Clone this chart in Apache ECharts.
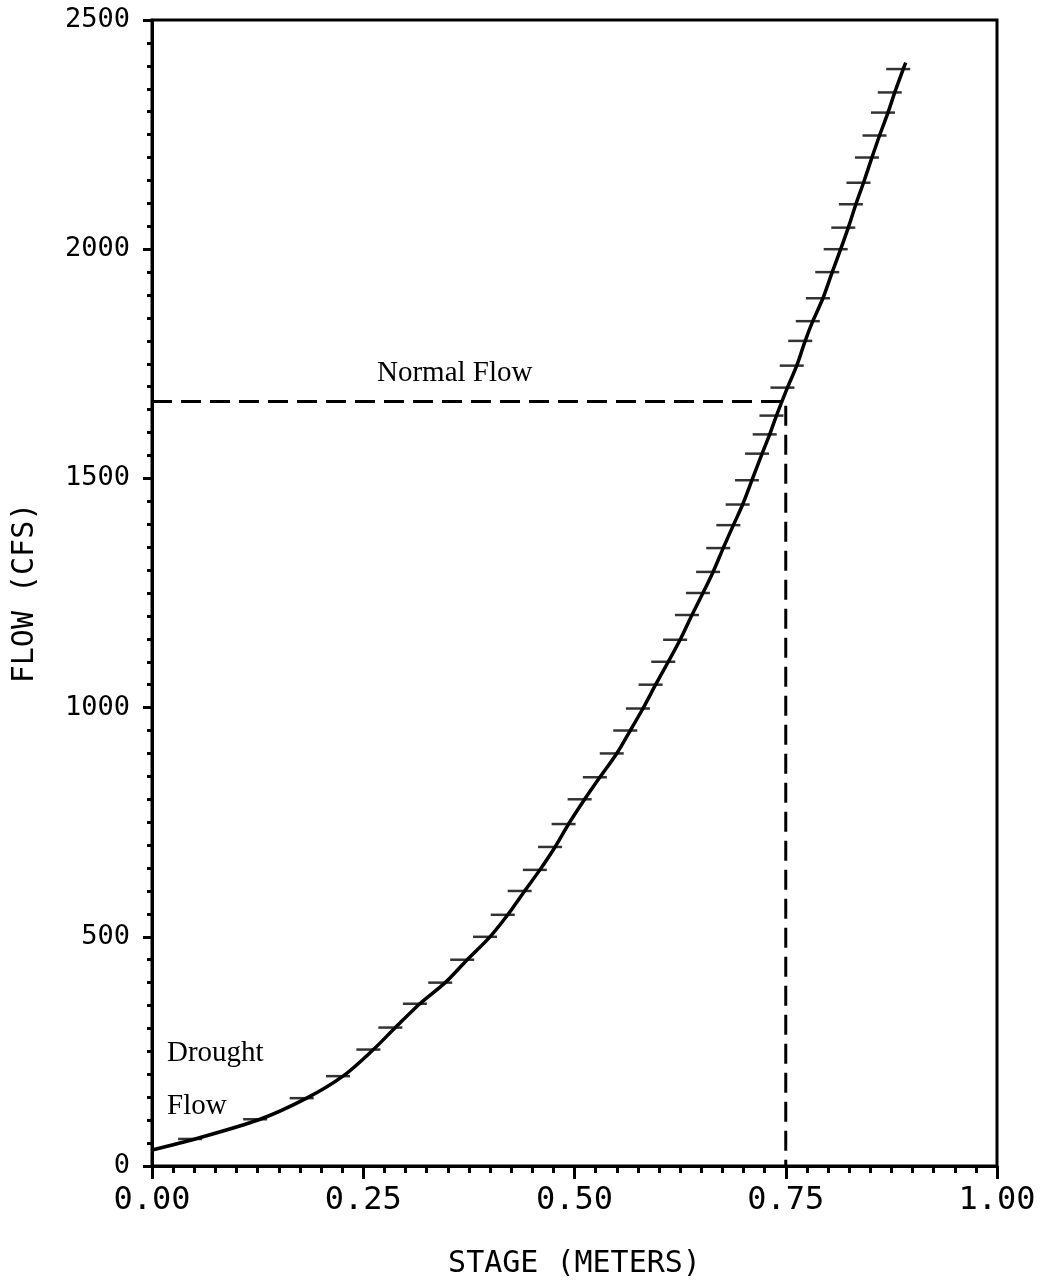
<!DOCTYPE html>
<html>
<head>
<meta charset="utf-8">
<script src="https://cdn.jsdelivr.net/npm/echarts@6/dist/echarts.min.js"></script>
<style>html,body{margin:0;padding:0;background:#fff}#c{width:1041px;height:1284px}</style>
</head>
<body>
<div id="c"></div>
<script>
// Rating curve: stage (m) vs flow (cfs)
var curveStage = [0.000, 0.051, 0.128, 0.183, 0.226, 0.262, 0.288, 0.317, 0.347, 0.373, 0.400, 0.421, 0.441, 0.459, 0.477, 0.493, 0.512, 0.530, 0.550, 0.566, 0.581, 0.596, 0.611, 0.625, 0.639, 0.652, 0.664, 0.676, 0.688, 0.699, 0.710, 0.722, 0.731, 0.739, 0.752, 0.763, 0.773, 0.782, 0.794, 0.805, 0.815, 0.824, 0.833, 0.842, 0.852, 0.861, 0.871, 0.879, 0.889, 0.892];
var curveFlow  = [35, 59, 102, 148, 196, 254, 302, 354, 400, 450, 500, 548, 600, 646, 696, 746, 800, 848, 900, 950, 998, 1050, 1100, 1148, 1202, 1250, 1296, 1348, 1398, 1443, 1496, 1554, 1596, 1637, 1698, 1746, 1800, 1843, 1893, 1950, 2000, 2047, 2098, 2145, 2200, 2248, 2298, 2342, 2393, 2407];
// Normal flow reference (dashed)
var normalStage = 0.75;
var normalFlow = 1668;
var xTickLabels = ['0.00', '0.25', '0.50', '0.75', '1.00'];
var yTickLabels = ['0', '500', '1000', '1500', '2000', '2500'];
var xTitle = 'STAGE (METERS)';
var yTitle = 'FLOW (CFS)';

var curveData = curveStage.map(function (s, i) { return [s, curveFlow[i]]; });
var hashData = curveData.slice(1, curveData.length - 1);
var dashData = [[0, normalFlow], [normalStage, normalFlow], [normalStage, 0]];

var plotFont = 'DejaVu Sans Mono';
var chart = echarts.init(document.getElementById('c'), null, {renderer: 'canvas'});
chart.setOption({
  animation: false,
  backgroundColor: '#ffffff',
  grid: {left: 152, right: 44, top: 20, bottom: 114, show: true, borderColor: '#000', borderWidth: 3, backgroundColor: 'transparent'},
  xAxis: {
    type: 'value', min: 0, max: 1, interval: 0.25,
    name: xTitle, nameLocation: 'middle', nameGap: 83,
    nameTextStyle: {fontFamily: plotFont, fontSize: 30, color: '#000'},
    axisLine: {show: true, onZero: false, lineStyle: {color: '#000', width: 3}},
    axisTick: {show: true, inside: false, length: 13, lineStyle: {color: '#000', width: 3}},
    minorTick: {show: true, splitNumber: 10, length: 7, lineStyle: {color: '#000', width: 3}},
    splitLine: {show: false},
    axisLabel: {margin: 19, fontFamily: plotFont, fontSize: 32, color: '#000',
      formatter: function (v) { return xTickLabels[Math.round(v / 0.25)]; }}
  },
  yAxis: {
    type: 'value', min: 0, max: 2500, interval: 500,
    name: yTitle, nameLocation: 'middle', nameGap: 112, nameRotate: 90,
    nameTextStyle: {fontFamily: plotFont, fontSize: 30, color: '#000'},
    axisLine: {show: true, onZero: false, lineStyle: {color: '#000', width: 3}},
    axisTick: {show: true, inside: false, length: 9, lineStyle: {color: '#000', width: 3}},
    minorTick: {show: true, splitNumber: 10, length: 5, lineStyle: {color: '#000', width: 3}},
    splitLine: {show: false},
    axisLabel: {margin: 22, fontFamily: plotFont, fontSize: 27, color: '#000',
      formatter: function (v) { return yTickLabels[Math.round(v / 500)]; }}
  },
  series: [
    {
      type: 'line', data: dashData, symbol: 'none', silent: true,
      lineStyle: {color: '#000', width: 3, type: [20, 9]}, z: 2
    },
    {
      type: 'line', data: curveData, symbol: 'none', smooth: 0.3, silent: true,
      lineStyle: {color: '#000', width: 3.5}, z: 3
    },
    {
      type: 'scatter', data: hashData, symbol: 'rect', symbolSize: [24, 2.5],
      symbolOffset: [-5, 0], itemStyle: {color: '#000'}, silent: true, z: 4
    }
  ],
  graphic: [
    {type: 'text', left: 377, top: 359, style: {text: 'Normal Flow', font: '29px "Liberation Serif"', fill: '#000'}},
    {type: 'text', left: 167, top: 1039, style: {text: 'Drought', font: '29px "Liberation Serif"', fill: '#000'}},
    {type: 'text', left: 167, top: 1092, style: {text: 'Flow', font: '29px "Liberation Serif"', fill: '#000'}}
  ]
});
</script>
</body>
</html>
